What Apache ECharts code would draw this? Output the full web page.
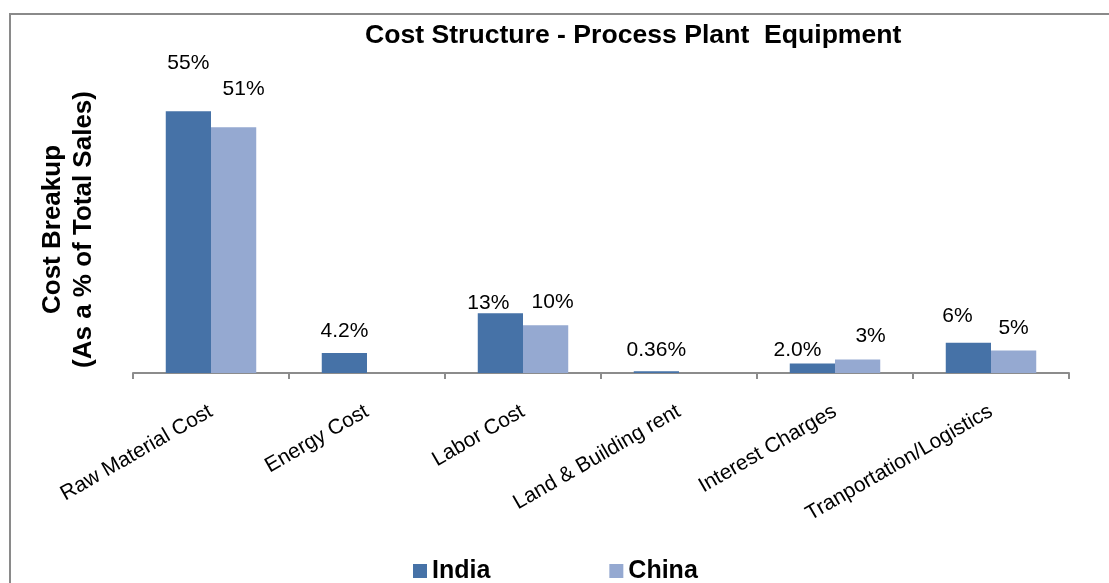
<!DOCTYPE html>
<html>
<head>
<meta charset="utf-8">
<script src="https://cdn.jsdelivr.net/npm/echarts@6/dist/echarts.min.js"></script>
<style>
html,body{margin:0;padding:0;background:#fff;}
#chart{width:1109px;height:583px;}
</style>
</head>
<body>
<div id="chart"></div>
<script>
// ---- data ----
const categories = ['Raw Material Cost', 'Energy Cost', 'Labor Cost', 'Land & Building rent', 'Interest Charges', 'Tranportation/Logistics'];
const indiaValues = [54.7, 4.2, 12.5, 0.36, 2.0, 6.3];
const chinaValues = [51.4, null, 10.0, null, 2.8, 4.7];
const indiaLabels = ['55%', '4.2%', '13%', '0.36%', '2.0%', '6%'];
const chinaLabels = ['51%', '', '10%', '', '3%', '5%'];
const seriesNames = ['India', 'China'];

// ---- styling ----
const FONT = 'Liberation Sans, Arial, Helvetica, sans-serif';
const INDIA_COLOR = '#4672a7';
const CHINA_COLOR = '#95a9d1';
// label nudges: [dx, gap above bar]
const indiaNudge = [[0, 42], [0, 15], [-12, 4], [0, 15], [-15, 7], [-11, 20]];
const chinaNudge = [[10, 31], null, [7, 16], null, [13, 17], [0, 16]];

function buildData(values, labels, nudges) {
  return values.map((v, i) => {
    if (v === null) return { value: null };
    const n = nudges[i];
    return {
      value: v,
      label: {
        formatter: labels[i],
        distance: Math.max(0, n[1] - 4),
        offset: [n[0], 0]
      }
    };
  });
}

const chart = echarts.init(document.getElementById('chart'));
chart.setOption({
  animation: false,
  textStyle: { fontFamily: FONT },
  graphic: [{
    type: 'rect',
    shape: { x: 10, y: 14, width: 1300, height: 800 },
    style: { fill: 'none', stroke: '#8a8a8a', lineWidth: 2 },
    silent: true,
    z: -1
  }],
  title: {
    text: 'Cost Structure - Process Plant  Equipment',
    left: 360,
    top: 17,
    textStyle: { fontFamily: FONT, fontSize: 26.6, fontWeight: 'bold', color: '#000' }
  },
  legend: {
    data: seriesNames,
    left: 408,
    top: 553,
    itemWidth: 14,
    itemHeight: 14,
    itemGap: 119,
    icon: 'rect',
    textStyle: { fontFamily: FONT, fontSize: 25, fontWeight: 'bold', color: '#000', lineHeight: 26 }
  },
  grid: { left: 133, right: 40, top: 86, bottom: 210, containLabel: false },
  xAxis: {
    type: 'category',
    data: categories,
    axisLine: { lineStyle: { color: '#8c8c8c', width: 2 } },
    axisTick: { show: true, length: 6, lineStyle: { color: '#8c8c8c', width: 2 } },
    axisLabel: { rotate: 30, fontSize: 21, color: '#000', fontFamily: FONT, margin: 37, interval: 0 }
  },
  yAxis: {
    type: 'value',
    min: 0,
    max: 60,
    axisLine: { show: false },
    axisTick: { show: false },
    axisLabel: { show: false },
    splitLine: { show: false },
    name: 'Cost Breakup\n(As a % of Total Sales)',
    nameLocation: 'middle',
    nameRotate: 90,
    nameGap: 34,
    nameTextStyle: { fontFamily: FONT, fontSize: 26, fontWeight: 'bold', color: '#000', lineHeight: 31 }
  },
  series: [
    {
      name: seriesNames[0],
      type: 'bar',
      data: buildData(indiaValues, indiaLabels, indiaNudge),
      itemStyle: { color: INDIA_COLOR },
      barGap: '0%',
      barCategoryGap: '42%',
      label: { show: true, position: 'top', fontSize: 21, color: '#000', fontFamily: FONT }
    },
    {
      name: seriesNames[1],
      type: 'bar',
      data: buildData(chinaValues, chinaLabels, chinaNudge),
      itemStyle: { color: CHINA_COLOR },
      barGap: '0%',
      barCategoryGap: '42%',
      label: { show: true, position: 'top', fontSize: 21, color: '#000', fontFamily: FONT }
    }
  ]
});
</script>
</body>
</html>
